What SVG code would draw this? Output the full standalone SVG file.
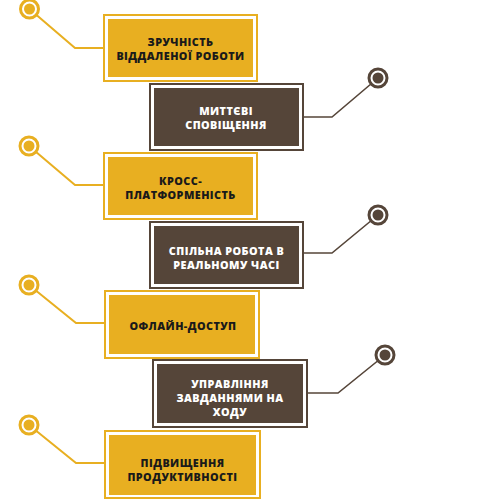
<svg xmlns="http://www.w3.org/2000/svg" width="493" height="500" viewBox="0 0 493 500">
<style>
.bg{fill:#ffffff}
.yo{fill:none;stroke:#E8AF21;stroke-width:2}
.yi{fill:#E8AF21}
.bo{fill:none;stroke:#554539;stroke-width:2}
.bi{fill:#554539}
.yl{fill:none;stroke:#E8AF21;stroke-width:2;stroke-linejoin:miter}
.bl{fill:none;stroke:#554539;stroke-width:1.6;stroke-linejoin:miter}
.yr{fill:#ffffff;stroke:#E8AF21;stroke-width:3}
.yd{fill:#E8AF21}
.br{fill:#ffffff;stroke:#554539;stroke-width:3}
.bd{fill:#554539}
text{font-family:"Open Sans","DejaVu Sans",sans-serif;font-weight:800;font-size:10.8px;text-anchor:middle;dominant-baseline:central;letter-spacing:0.45px}
.tk{fill:#1a1a1a}
.tw{fill:#ffffff}
</style>
<rect class="bg" x="0" y="0" width="493" height="500"/>
<g id="connectors">
<polyline class="yl" points="29.5,9 75,48 103,48"/>
<polyline class="bl" points="304,117 332,117 378,78"/>
<polyline class="yl" points="29,146 75,185 103,185"/>
<polyline class="bl" points="304,253 332,253 378,215"/>
<polyline class="yl" points="29,285 76,323 104,323"/>
<polyline class="bl" points="308,393 338,393 385,355"/>
<polyline class="yl" points="29,425 76,463 104,463"/>
<circle class="yr" cx="29.5" cy="9" r="9"/><circle class="yd" cx="29.5" cy="9" r="5.5"/>
<circle class="br" cx="378" cy="78" r="9"/><circle class="bd" cx="378" cy="78" r="5.5"/>
<circle class="yr" cx="29" cy="146" r="9"/><circle class="yd" cx="29" cy="146" r="5.5"/>
<circle class="br" cx="378" cy="215" r="9"/><circle class="bd" cx="378" cy="215" r="5.5"/>
<circle class="yr" cx="29" cy="285" r="9"/><circle class="yd" cx="29" cy="285" r="5.5"/>
<circle class="br" cx="385" cy="355" r="9"/><circle class="bd" cx="385" cy="355" r="5.5"/>
<circle class="yr" cx="29" cy="425" r="9"/><circle class="yd" cx="29" cy="425" r="5.5"/>
</g>
<g id="node1">
<rect class="yo" x="104" y="15" width="153" height="66"/>
<rect class="yi" x="108" y="19" width="145" height="58"/>
<text class="tk" x="180.5" y="41">ЗРУЧНІСТЬ</text>
<text class="tk" x="180.5" y="55">ВІДДАЛЕНОЇ РОБОТИ</text>
</g>
<g id="node2">
<rect class="bo" x="150" y="84" width="153" height="66"/>
<rect class="bi" x="154" y="88" width="145" height="58"/>
<text class="tw" x="226" y="110.5">МИТТЄВІ</text>
<text class="tw" x="226" y="124.5">СПОВІЩЕННЯ</text>
</g>
<g id="node3">
<rect class="yo" x="104" y="153" width="153" height="66"/>
<rect class="yi" x="108" y="157" width="145" height="58"/>
<text class="tk" x="180.5" y="180">КРОСС-</text>
<text class="tk" x="180.5" y="194">ПЛАТФОРМЕНІСТЬ</text>
</g>
<g id="node4">
<rect class="bo" x="150" y="222" width="153" height="66"/>
<rect class="bi" x="154" y="226" width="145" height="58"/>
<text class="tw" x="226.5" y="250">СПІЛЬНА РОБОТА В</text>
<text class="tw" x="226.5" y="264">РЕАЛЬНОМУ ЧАСІ</text>
</g>
<g id="node5">
<rect class="yo" x="105" y="291" width="154" height="67"/>
<rect class="yi" x="109" y="295" width="146" height="59"/>
<text class="tk" x="183" y="325">ОФЛАЙН-ДОСТУП</text>
</g>
<g id="node6">
<rect class="bo" x="153" y="360" width="154" height="67"/>
<rect class="bi" x="157" y="364" width="146" height="59"/>
<text class="tw" x="230" y="383.5">УПРАВЛІННЯ</text>
<text class="tw" x="230" y="397.5">ЗАВДАННЯМИ НА</text>
<text class="tw" x="230" y="411.5">ХОДУ</text>
</g>
<g id="node7">
<rect class="yo" x="105" y="431" width="155" height="67"/>
<rect class="yi" x="109" y="435" width="147" height="60"/>
<text class="tk" x="182.5" y="462">ПІДВИЩЕННЯ</text>
<text class="tk" x="182.5" y="476">ПРОДУКТИВНОСТІ</text>
</g>
</svg>
